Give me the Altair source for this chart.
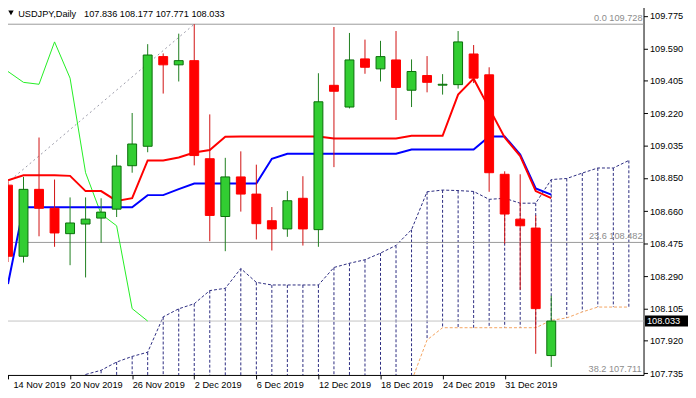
import altair as alt
import pandas as pd

# ---------------- data ----------------
dates = ["14 Nov 2019", "15 Nov 2019", "18 Nov 2019", "19 Nov 2019", "20 Nov 2019", "21 Nov 2019",
         "22 Nov 2019", "25 Nov 2019", "26 Nov 2019", "27 Nov 2019", "28 Nov 2019", "29 Nov 2019",
         "2 Dec 2019", "3 Dec 2019", "4 Dec 2019", "5 Dec 2019", "6 Dec 2019",
         "9 Dec 2019", "10 Dec 2019", "11 Dec 2019", "12 Dec 2019", "13 Dec 2019",
         "16 Dec 2019", "17 Dec 2019", "18 Dec 2019", "19 Dec 2019", "20 Dec 2019",
         "23 Dec 2019", "24 Dec 2019", "26 Dec 2019", "27 Dec 2019", "30 Dec 2019", "31 Dec 2019",
         "2 Jan 2020", "3 Jan 2020", "6 Jan 2020"]

opens = [108.809, 108.403, 108.785, 108.677, 108.532, 108.587, 108.621, 108.672, 108.920, 109.031,
         109.543, 109.496, 109.520, 108.960, 108.630, 108.856, 108.758, 108.606, 108.559, 108.734,
         108.555, 109.379, 109.255, 109.530, 109.473, 109.524, 109.351, 109.435, 109.380, 109.383,
         109.558, 109.439, 108.871, 108.615, 108.564, 107.836]
highs = [108.830, 108.856, 109.081, 108.841, 108.739, 108.739, 108.734, 108.982, 109.221, 109.614,
         109.561, 109.674, 109.728, 109.213, 108.965, 109.002, 108.926, 108.684, 108.775, 108.860,
         109.448, 109.712, 109.678, 109.640, 109.633, 109.689, 109.527, 109.546, 109.443, 109.689,
         109.609, 109.482, 108.888, 108.871, 108.636, 108.177]
lows = [108.370, 108.367, 108.517, 108.457, 108.352, 108.282, 108.480, 108.627, 108.880, 108.997,
        109.332, 109.401, 108.922, 108.489, 108.432, 108.658, 108.499, 108.436, 108.514, 108.464,
        108.457, 108.912, 109.247, 109.445, 109.401, 109.181, 109.255, 109.339, 109.326, 109.360,
        109.392, 108.771, 108.475, 108.212, 107.846, 107.771]
closes = [108.403, 108.785, 108.677, 108.536, 108.593, 108.615, 108.655, 108.918, 109.044, 109.552,
          109.496, 109.520, 108.978, 108.636, 108.856, 108.758, 108.589, 108.559, 108.720, 108.559,
          109.285, 109.345, 109.524, 109.482, 109.543, 109.367, 109.458, 109.396, 109.385, 109.627,
          109.420, 108.880, 108.644, 108.577, 108.104, 108.033]

tenkan = [108.837, 108.865, 108.865, 108.865, 108.862, 108.775, 108.775, 108.719, 108.735, 108.950,
          108.950, 108.967, 108.995, 109.010, 109.085, 109.087, 109.087, 109.087, 109.087, 109.087,
          109.087, 109.076, 109.076, 109.076, 109.076, 109.076, 109.091, 109.091, 109.091, 109.326,
          109.417, 109.249, 109.081, 108.975, 108.775, 108.735]
kijun = [108.245, 108.683, 108.683, 108.683, 108.683, 108.683, 108.683, 108.683, 108.683, 108.752,
         108.752, 108.786, 108.818, 108.818, 108.818, 108.818, 108.818, 108.960, 108.988, 108.988,
         108.988, 108.988, 108.988, 108.988, 108.988, 108.988, 109.013, 109.013, 109.013, 109.013,
         109.013, 109.087, 109.087, 108.984, 108.790, 108.755]

# Senkou spans for bar index 4 .. 40 (cloud projected 5 bars ahead)
cloud_start = 4
span_b = [107.660, 107.728, 107.752, 107.799, 107.831, 107.855, 108.057, 108.103, 108.132, 108.207,
          108.220, 108.333, 108.254, 108.239, 108.239, 108.239, 108.239, 108.339, 108.363, 108.383,
          108.421, 108.465, 108.555, 108.771, 108.781, 108.778, 108.773, 108.728, 108.734, 108.706,
          108.706, 108.841, 108.847, 108.878, 108.907, 108.907, 108.950]
span_a = [107.300, 107.320, 107.350, 107.380, 107.400, 107.420, 107.440, 107.460, 107.480, 107.500,
          107.510, 107.520, 107.530, 107.540, 107.550, 107.560, 107.580, 107.600, 107.620, 107.630,
          107.640, 107.660, 107.690, 107.925, 107.995, 107.995, 107.995, 107.995, 107.995, 107.995,
          107.995, 108.037, 108.051, 108.085, 108.113, 108.113, 108.113]

chikou_shift = 26
fib_prices = [109.728, 108.482]
fib_labels = ["0.0 109.728", "23.6 108.482"]
fib_low_price = [107.711]
fib_low_label = ["38.2 107.711"]
trend_i = [-2, 12]
trend_price = [108.675, 109.728]
bid = [108.033]
y_ticks = [109.775, 109.590, 109.405, 109.220, 109.035, 108.850, 108.660,
           108.475, 108.290, 108.105, 107.920, 107.735]
x_tick_idx = [0, 4, 8, 12, 16, 20, 24, 28, 32]
header_symbol = "USDJPY,Daily"
header_prices = "107.836 108.177 107.771 108.033"

# ---------------- frames ----------------
n = len(dates)
candles = pd.DataFrame({"i": list(range(n)), "open": opens, "high": highs, "low": lows, "close": closes})
candles["dir"] = ["up" if c >= o else "down" for o, c in zip(opens, closes)]
lines = pd.DataFrame({"i": list(range(n)), "tenkan": tenkan, "kijun": kijun})
chikou = pd.DataFrame({"i": [k - chikou_shift for k in range(chikou_shift, n)],
                       "v": closes[chikou_shift:]})
cloud = pd.DataFrame({"i": list(range(cloud_start, cloud_start + len(span_b))),
                      "a": span_a, "b": span_b})
fib = pd.DataFrame({"p": fib_prices, "lab": fib_labels})
fib_low = pd.DataFrame({"p": fib_low_price, "lab": fib_low_label})
trend = pd.DataFrame({"i": trend_i, "p": trend_price})
bid_df = pd.DataFrame({"p": bid, "lab": [f"{bid[0]:.3f}"]})
hdr = pd.DataFrame({"a": [header_symbol], "b": [header_prices]})

FONT = "Liberation Sans"
FS = 9.3
W, H = 649, 375
xdom = [-0.0627, 40.627]
ydom = [107.7253, 109.8416]

label_arr = "[" + ",".join("'" + dates[k] + "'" for k in x_tick_idx) + "]"

xs = alt.Scale(domain=xdom, nice=False, zero=False)
ys = alt.Scale(domain=ydom, nice=False, zero=False)

x_axis = alt.Axis(values=x_tick_idx, labelExpr=label_arr + "[datum.value / 4]",
                  labelAlign="left", labelBaseline="top", labelPadding=2, tickSize=4,
                  tickColor="black", domainColor="black", labelColor="black",
                  labelFont=FONT, labelFontSize=FS, grid=False, title=None,
                  labelOverlap=False, labelFlush=False,
                  labelOffset={"condition": {"test": "datum.value == 0", "value": 5}, "value": 0})
y_axis = alt.Axis(orient="right", values=y_ticks, format=".3f", tickSize=4, labelPadding=2,
                  tickColor="black", domainColor="black", labelColor="black",
                  labelFont=FONT, labelFontSize=FS, grid=False, title=None, labelOverlap=False,
                  labelBaseline="middle")


def X(field="i"):
    return alt.X(f"{field}:Q", scale=xs, axis=x_axis)


def Y(field):
    return alt.Y(f"{field}:Q", scale=ys, axis=y_axis)


NAVY = "#2B2B80"

cloud_rules = alt.Chart(cloud).mark_rule(color=NAVY, strokeWidth=1, strokeDash=[3, 2], clip=True).encode(
    x=X(), y=Y("b"), y2="a:Q")
span_b_line = alt.Chart(cloud).mark_line(color=NAVY, strokeWidth=1, strokeDash=[3, 2], clip=True).encode(
    x=X(), y=Y("b"))
span_a_line = alt.Chart(cloud).mark_line(color="#F4A460", strokeWidth=1, strokeDash=[3, 2], clip=True).encode(
    x=X(), y=Y("a"))

fib_rules = alt.Chart(fib).mark_rule(color="#9A9A9A", strokeWidth=1).encode(y=Y("p"))
bid_rule = alt.Chart(bid_df).mark_rule(color="#C4C4C4", strokeWidth=1).encode(y=Y("p"))
trend_line = alt.Chart(trend).mark_line(color="#9A9AA8", strokeWidth=1, strokeDash=[2, 3], clip=True).encode(
    x=X(), y=Y("p"))

chikou_line = alt.Chart(chikou).mark_line(color="#22EE22", strokeWidth=1, clip=True).encode(
    x=X(), y=Y("v"))
kijun_line = alt.Chart(lines).mark_line(color="#0000FF", strokeWidth=2, clip=True).encode(
    x=X(), y=Y("kijun"))
tenkan_line = alt.Chart(lines).mark_line(color="#FF0000", strokeWidth=2, clip=True).encode(
    x=X(), y=Y("tenkan"))

dir_scale_wick = alt.Scale(domain=["up", "down"], range=["#1E7E1E", "#D01010"])
dir_scale_fill = alt.Scale(domain=["up", "down"], range=["#32CD32", "#FF0000"])
dir_scale_stroke = alt.Scale(domain=["up", "down"], range=["#0A6E0A", "#FF0000"])

wicks = alt.Chart(candles).mark_rule(strokeWidth=1, clip=True).encode(
    x=X(), y=Y("low"), y2="high:Q",
    color=alt.Color("dir:N", scale=dir_scale_wick, legend=None))
bodies = alt.Chart(candles).mark_bar(size=9, strokeWidth=1, clip=True).encode(
    x=X(), y=Y("open"), y2="close:Q",
    fill=alt.Fill("dir:N", scale=dir_scale_fill, legend=None),
    stroke=alt.Stroke("dir:N", scale=dir_scale_stroke, legend=None))

fib_text = alt.Chart(fib).mark_text(align="right", baseline="alphabetic", dy=-3, font=FONT,
                                    fontSize=FS, color="#8C8C8C").encode(
    x=alt.value(W - 1), y=Y("p"), text="lab:N")
fib_low_text = alt.Chart(fib_low).mark_text(align="right", baseline="alphabetic", dy=-5.5, font=FONT,
                                            fontSize=FS, color="#8C8C8C").encode(
    x=alt.value(W - 2), y=Y("p"), text="lab:N")

price_box = alt.Chart(bid_df).mark_rule(color="black", strokeWidth=11, strokeCap="butt").encode(
    x=alt.value(W + 1.5), x2=alt.value(W + 46), y=Y("p"))
price_txt = alt.Chart(bid_df).mark_text(align="left", baseline="middle", font=FONT, fontSize=FS,
                                        color="white").encode(
    x=alt.value(W + 3.5), y=Y("p"), text="lab:N")

tri = alt.Chart(hdr).mark_point(shape="triangle-down", filled=True, size=30, color="black", opacity=1).encode(
    x=alt.value(9), y=alt.value(8.7))
hdr_a = alt.Chart(hdr).mark_text(align="left", baseline="alphabetic", font=FONT, fontSize=FS,
                                 color="black").encode(x=alt.value(16.3), y=alt.value(12.6), text="a:N")
hdr_b = alt.Chart(hdr).mark_text(align="left", baseline="alphabetic", font=FONT, fontSize=FS,
                                 color="black").encode(x=alt.value(83), y=alt.value(12.6), text="b:N")

chart = alt.layer(
    cloud_rules, span_b_line, span_a_line,
    fib_rules, bid_rule, trend_line,
    chikou_line, kijun_line, tenkan_line,
    wicks, bodies,
    fib_text, fib_low_text, price_box, price_txt,
    tri, hdr_a, hdr_b,
).properties(
    width=W, height=H,
    autosize=alt.AutoSizeParams(type="none"),
    padding={"left": -6, "top": -6, "right": 45, "bottom": 16},
    background="white",
).configure_view(stroke=None)

chart.save("out.html", embed_options={"renderer": "svg", "actions": False})
